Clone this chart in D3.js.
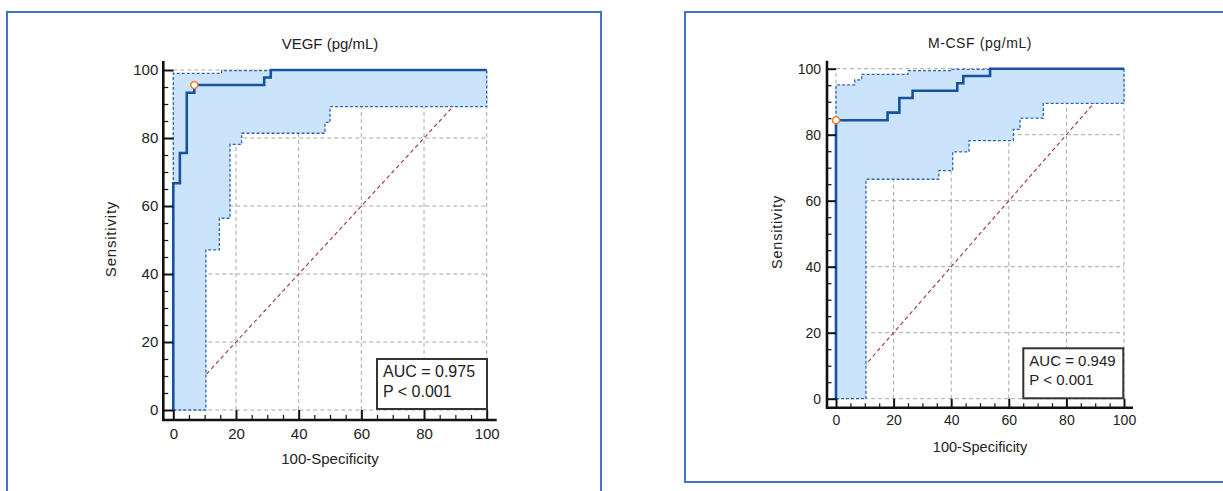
<!DOCTYPE html>
<html>
<head>
<meta charset="utf-8">
<script src="https://cdn.jsdelivr.net/npm/d3@7"></script>
<style>
  body { margin: 0; background: #fff; }
  svg { display: block; font-family: "Liberation Sans", Arial, sans-serif; }
</style>
</head>
<body>
<svg width="1223" height="491"></svg>
<script>
var majorTicks = [0, 20, 40, 60, 80, 100];
var minorTicks = [5, 10, 15, 25, 30, 35, 45, 50, 55, 65, 70, 75, 85, 90, 95];

// VEGF : [100-specificity, sensitivity] step points
var vegfRoc = [[0,0],[0,66.7],[2.1,75.6],[4.3,93.3],[6.7,95.6],[29,97.8],[31.1,100],[100,100]];
var vegfUpper = [[0,0],[0,99],[15.4,99.8],[31.1,100],[100,100]];
var vegfLower = [[0,0],[10.4,47.1],[14.7,56.4],[18.1,78.1],[21.8,81.4],[48.4,84.6],[50,89.2],[100,100]];
var vegfCutoff = [6.7, 95.6];
var vegfStats = ["AUC = 0.975", "P < 0.001"];

// M-CSF
var mcsfRoc = [[0,0],[0,84.4],[17.9,86.7],[22,91.1],[26.6,93.3],[42.1,95.6],[44.2,97.8],[53.5,100],[100,100]];
var mcsfUpper = [[0,0],[0,95.1],[6.5,96.6],[8.9,98.3],[25,99.4],[40,99.8],[53.5,100],[100,100]];
var mcsfLower = [[0,0],[10.4,66.5],[35.7,69.1],[40.5,74.8],[46.2,78.2],[61.6,81.6],[63.9,85],[72,89.5],[100,100]];
var mcsfCutoff = [0, 84.4];
var mcsfStats = ["AUC = 0.949", "P < 0.001"];

var svg = d3.select('svg');

// panel frames
svg.append('rect').attr('x', 7).attr('y', 12).attr('width', 594).attr('height', 490)
   .attr('fill', 'none').attr('stroke', '#4472c4').attr('stroke-width', 2);
svg.append('rect').attr('x', 685).attr('y', 12).attr('width', 560).attr('height', 470)
   .attr('fill', 'none').attr('stroke', '#4472c4').attr('stroke-width', 2);

// expand step points (horizontal then vertical) into corner points
function steps(pts) {
   var out = [pts[0]];
   for (var i = 1; i < pts.length; i++) {
      out.push([pts[i][0], pts[i-1][1]]);
      out.push(pts[i]);
   }
   return out;
}

function drawRoc(c) {
   var x = d3.scaleLinear().domain([0, 100]).range([c.x0, c.x1]);
   var y = d3.scaleLinear().domain([0, 100]).range([c.y0, c.y1]);
   var g = svg.append('g');
   var line = d3.line().x(function(d){ return x(d[0]); }).y(function(d){ return y(d[1]); });

   // grid
   var grid = g.append('g');
   grid.selectAll('line.v').data(majorTicks).enter().append('line')
      .attr('x1', function(d){ return x(d); }).attr('x2', function(d){ return x(d); })
      .attr('y1', y(0)).attr('y2', y(100));
   grid.selectAll('line.h').data(majorTicks).enter().append('line')
      .attr('y1', function(d){ return y(d); }).attr('y2', function(d){ return y(d); })
      .attr('x1', x(0)).attr('x2', x(100));
   grid.selectAll('line').attr('stroke', '#a8a8a8').attr('stroke-width', 1)
      .attr('stroke-dasharray', '4 3');

   // reference diagonal
   g.append('path').attr('d', line([[0,0],[100,100]]))
      .attr('stroke', '#a2303c').attr('stroke-width', 1.1).attr('stroke-dasharray', '4 3')
      .attr('fill', 'none');

   // confidence band
   var band = steps(c.upper).concat(steps(c.lower).reverse());
   g.append('path').attr('d', line(band) + 'Z').attr('fill', '#cce4fb').attr('stroke', 'none');
   [c.upper, c.lower].forEach(function(b){
      g.append('path').attr('d', line(steps(b)))
         .attr('fill', 'none').attr('stroke', '#2b68b2').attr('stroke-width', 1.3)
         .attr('stroke-dasharray', '3 2');
   });

   // ROC curve
   g.append('path').attr('d', line(steps(c.roc)))
      .attr('fill', 'none').attr('stroke', '#1553a0').attr('stroke-width', 2.6);

   g.append('circle').attr('cx', x(c.cutoff[0])).attr('cy', y(c.cutoff[1])).attr('r', 3.5)
      .attr('fill', '#fff').attr('stroke', '#f07f2a').attr('stroke-width', 1.6);

   // axes
   var ax = c.x0 - c.off, ay = c.y0 + c.off;
   var yMaj = g.append('g').attr('transform', 'translate(' + ax + ',0)')
      .call(d3.axisRight(y).tickValues(majorTicks).tickSize(c.off).tickFormat(''));
   var yMin = g.append('g').attr('transform', 'translate(' + ax + ',0)')
      .call(d3.axisRight(y).tickValues(minorTicks).tickSize(c.off / 2).tickFormat(''));
   var yLab = g.append('g').attr('transform', 'translate(' + ax + ',0)')
      .call(d3.axisLeft(y).tickValues(majorTicks).tickSize(0).tickPadding(c.padY));
   var xMaj = g.append('g').attr('transform', 'translate(0,' + ay + ')')
      .call(d3.axisTop(x).tickValues(majorTicks).tickSize(c.off).tickFormat(''));
   var xMin = g.append('g').attr('transform', 'translate(0,' + ay + ')')
      .call(d3.axisTop(x).tickValues(minorTicks).tickSize(c.off / 2).tickFormat(''));
   var xLab = g.append('g').attr('transform', 'translate(0,' + ay + ')')
      .call(d3.axisBottom(x).tickValues(majorTicks).tickSize(0).tickPadding(c.padX));

   [yMaj, yMin, yLab, xMaj, xMin, xLab].forEach(function(a){ a.select('.domain').remove(); });
   [yMaj, xMaj].forEach(function(a){ a.selectAll('line').attr('stroke', '#111').attr('stroke-width', 2); });
   [yMin, xMin].forEach(function(a){ a.selectAll('line').attr('stroke', '#111').attr('stroke-width', 1.2); });
   [yLab, xLab].forEach(function(a){
      a.selectAll('text').attr('font-size', c.tickFont).attr('fill', '#222')
         .attr('font-family', '"Liberation Sans", Arial, sans-serif');
   });

   g.append('line').attr('x1', ax).attr('x2', ax).attr('y1', y(100) - c.off + 1).attr('y2', ay + 1)
      .attr('stroke', '#111').attr('stroke-width', 2.6);
   g.append('line').attr('x1', ax - 1).attr('x2', x(100) + c.off).attr('y1', ay).attr('y2', ay)
      .attr('stroke', '#111').attr('stroke-width', 2.6);

   // titles
   g.append('text').attr('x', c.cx).attr('y', c.titleY).attr('text-anchor', 'middle')
      .attr('font-size', c.titleFont).attr('letter-spacing', c.titleSpacing).attr('fill', '#222')
      .text(c.title);
   g.append('text').attr('x', c.cx).attr('y', c.xLabelY).attr('text-anchor', 'middle')
      .attr('font-size', c.labelFont).attr('fill', '#222').text('100-Specificity');
   g.append('text').attr('transform', 'translate(' + c.yLabelX + ',' + c.yLabelY + ') rotate(-90)')
      .attr('text-anchor', 'middle').attr('font-size', c.labelFont).attr('letter-spacing', 0.8)
      .attr('fill', '#222').text('Sensitivity');

   // AUC box
   var b = c.box;
   g.append('rect').attr('x', b[0]).attr('y', b[1]).attr('width', b[2]).attr('height', b[3])
      .attr('fill', '#fff').attr('stroke', '#333').attr('stroke-width', 2);
   g.selectAll('text.stat').data(c.stats).enter().append('text')
      .attr('class', 'stat')
      .attr('x', b[0] + 6).attr('y', function(d, i){ return b[1] + 18 + i * c.statGap; })
      .attr('font-size', c.statFont).attr('fill', '#222').text(function(d){ return d; });
}

drawRoc({
   roc: vegfRoc, upper: vegfUpper, lower: vegfLower, cutoff: vegfCutoff, stats: vegfStats,
   title: 'VEGF (pg/mL)', titleSpacing: 0,
   x0: 173.3, x1: 486.7, y0: 410, y1: 70, off: 10, padX: 8, padY: 5,
   tickFont: 15, titleFont: 15, labelFont: 15, statFont: 16, statGap: 20,
   cx: 330, titleY: 49, xLabelY: 464, yLabelX: 116, yLabelY: 239,
   box: [377, 359, 110, 50]
});

drawRoc({
   roc: mcsfRoc, upper: mcsfUpper, lower: mcsfLower, cutoff: mcsfCutoff, stats: mcsfStats,
   title: 'M-CSF (pg/mL)', titleSpacing: 0.6,
   x0: 836, x1: 1124, y0: 398.7, y1: 68.7, off: 9, padX: 7, padY: 6,
   tickFont: 14, titleFont: 14, labelFont: 14.5, statFont: 15, statGap: 18.5,
   cx: 980, titleY: 48, xLabelY: 452, yLabelX: 782, yLabelY: 232,
   box: [1023.3, 348.3, 100, 50]
});
</script>
</body>
</html>
